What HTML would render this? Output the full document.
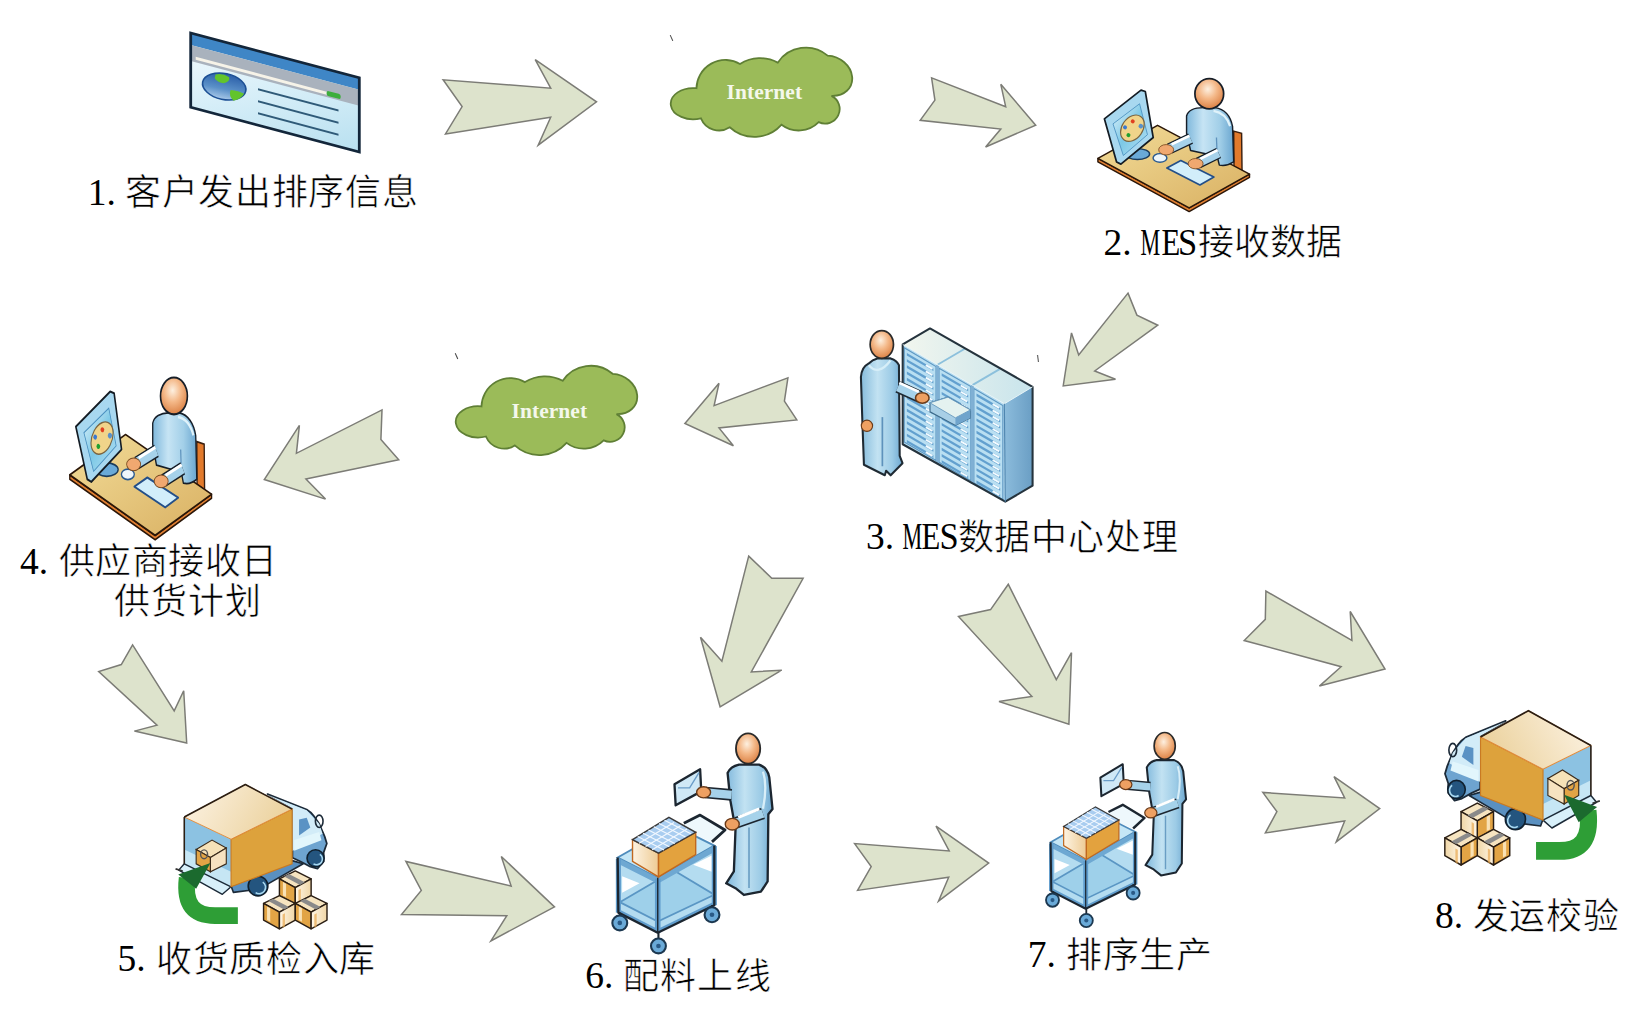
<!DOCTYPE html>
<html lang="zh-CN"><head><meta charset="utf-8"><title>MES</title>
<style>
html,body{margin:0;padding:0;background:#fff;width:1641px;height:1009px;overflow:hidden}
svg{position:absolute;left:0;top:0;display:block}
.arr{fill:#dde3cc;stroke:#7c7c76;stroke-width:1.5;stroke-linejoin:miter}
text{fill:#000}
</style></head><body>
<svg width="1641" height="1009" viewBox="0 0 1641 1009">
<defs>

</defs>
<polygon class="arr" points="443.1,79.8 462.1,106.6 445.5,133.9 550.7,117.3 538.2,145.2 596.5,101.8 535.2,59.6 550.7,88.2"/>
<polygon class="arr" points="931.6,77.8 934.9,100.1 920.2,120.3 1000.8,129.0 985.6,147.0 1035.7,125.2 1000.8,84.3 1005.7,106.7"/>
<polygon class="arr" points="1128.0,293.1 1136.9,315.1 1157.8,325.2 1094.7,371.0 1115.5,379.3 1063.2,385.9 1071.5,332.9 1078.7,354.9"/>
<polygon class="arr" points="787.9,377.8 784.4,401.1 796.8,419.9 719.0,427.9 733.4,445.7 684.9,423.4 719.0,383.3 714.1,405.6"/>
<polygon class="arr" points="382.0,409.9 380.9,439.6 398.7,459.8 305.9,478.9 325.5,499.1 264.3,479.5 299.4,425.3 296.4,453.3"/>
<polygon class="arr" points="132.6,644.9 121.3,664.5 98.7,671.6 157.0,725.1 134.4,731.1 186.7,743.0 183.7,690.7 174.2,710.9"/>
<polygon class="arr" points="748.7,556.1 771.8,578.3 803.1,578.3 751.3,672.0 781.7,670.2 720.1,706.8 700.5,637.2 721.9,661.3"/>
<polygon class="arr" points="1008.3,584.3 990.6,609.6 958.5,616.4 1031.9,696.4 999.0,701.5 1068.9,724.2 1071.5,652.6 1056.3,679.6"/>
<polygon class="arr" points="1265.9,591.0 1265.3,619.4 1244.2,640.5 1341.1,666.7 1319.4,686.1 1385.0,669.0 1350.2,611.5 1351.9,640.5"/>
<polygon class="arr" points="405.9,861.4 421.3,890.5 401.5,914.6 506.8,915.7 490.9,940.9 554.5,906.9 501.3,856.5 511.2,886.1"/>
<polygon class="arr" points="854.6,843.6 871.2,866.6 857.6,890.4 948.7,877.3 938.5,901.2 988.7,863.1 936.0,826.1 949.2,851.0"/>
<polygon class="arr" points="1262.8,792.4 1276.9,811.6 1265.4,832.9 1344.7,821.0 1336.2,841.9 1379.7,808.6 1334.0,776.6 1344.7,798.0"/>
<g id="cloud1" transform="translate(660,30) scale(0.12797)">
<path d="M285,455 A226,226 0 0 1 625,265 A292,292 0 0 1 920,255 A264,264 0 0 1 1310,200 A180,150 25 1 1 1340,515 A114,114 0 1 1 1240,720 A220,220 0 0 1 950,740 A284,284 0 0 1 545,760 A153,153 0 0 1 320,690 A175,122 0 1 1 285,455 Z" fill="#9bbb59" stroke="#5f7f35" stroke-width="14"/>
<text x="520" y="542" font-family="Liberation Serif" font-weight="bold" font-size="168" textLength="590" lengthAdjust="spacing" style="fill:#f4f8ec">Internet</text>
<path d="M80,40 L100,85" stroke="#444" stroke-width="8"/>
</g>
<g transform="translate(-215,318.2)">
<g transform="translate(660,30) scale(0.12797)">
<path d="M285,455 A226,226 0 0 1 625,265 A292,292 0 0 1 920,255 A264,264 0 0 1 1310,200 A180,150 25 1 1 1340,515 A114,114 0 1 1 1240,720 A220,220 0 0 1 950,740 A284,284 0 0 1 545,760 A153,153 0 0 1 320,690 A175,122 0 1 1 285,455 Z" fill="#9bbb59" stroke="#5f7f35" stroke-width="14"/>
<text x="520" y="542" font-family="Liberation Serif" font-weight="bold" font-size="168" textLength="590" lengthAdjust="spacing" style="fill:#f4f8ec">Internet</text>
<path d="M80,40 L100,85" stroke="#444" stroke-width="8"/>
</g>
</g>

<g transform="matrix(1,0.2657,0,1,190.7,33)">
<defs>
<linearGradient id="brc" x1="0" y1="0" x2="1" y2="1">
<stop offset="0" stop-color="#f4fbfe"/><stop offset="0.5" stop-color="#d6eef8"/><stop offset="1" stop-color="#b8e0f0"/>
</linearGradient>
<linearGradient id="globe" x1="0" y1="0" x2="0" y2="1">
<stop offset="0" stop-color="#2a5ea8"/><stop offset="0.6" stop-color="#5a90c8"/><stop offset="1" stop-color="#a8c8e8"/>
</linearGradient>
</defs>
<rect x="0" y="0" width="168.6" height="74.3" fill="url(#brc)"/>
<rect x="0" y="0" width="168.6" height="12" fill="#3f86c6"/>
<rect x="0" y="12" width="168.6" height="16" fill="#a9b2bd"/>
<rect x="5" y="22.5" width="131" height="3" fill="#f6f3e8"/>
<rect x="136" y="21.5" width="14" height="5" rx="2" fill="#3cae3c"/>
<g transform="translate(33.5,44.6) matrix(1,-0.2657,0,1,0,0) rotate(12)">
<ellipse cx="0" cy="0" rx="22" ry="13" fill="url(#globe)" stroke="#1c4f94" stroke-width="1.6"/>
<path d="M-11,-10 Q-4,-13 3,-10 Q5,-6 -1,-3 Q-7,-2 -11,-6 Z" fill="#62c42c"/>
<path d="M7,2 Q15,1 21,3 Q19,9 12,12 Q6,8 7,2 Z" fill="#62c42c"/>
</g>
<g stroke="#2f5a78" stroke-width="2">
<line x1="67.3" y1="38.3" x2="147.8" y2="38.3"/>
<line x1="67.3" y1="50.4" x2="147.8" y2="50.4"/>
<line x1="67.3" y1="62.4" x2="147.8" y2="62.4"/>
</g>
<rect x="0" y="0" width="168.6" height="74.3" fill="none" stroke="#13263a" stroke-width="2.8"/>
</g>

<defs>
<linearGradient id="dkTop" x1="0" y1="0" x2="1" y2="1">
<stop offset="0" stop-color="#f2dc98"/><stop offset="1" stop-color="#d9b062"/>
</linearGradient>
<radialGradient id="head" cx="0.45" cy="0.35" r="0.7">
<stop offset="0" stop-color="#fdf0e0"/><stop offset="0.45" stop-color="#f4b888"/><stop offset="1" stop-color="#d87a3c"/>
</radialGradient>
<linearGradient id="body" x1="0" y1="0" x2="1" y2="0">
<stop offset="0" stop-color="#7fb8dc"/><stop offset="0.35" stop-color="#c6e4f4"/><stop offset="0.7" stop-color="#a2cfe8"/><stop offset="1" stop-color="#6aa6d0"/>
</linearGradient>
<linearGradient id="scr" x1="0" y1="0" x2="1" y2="1">
<stop offset="0" stop-color="#e8f6fc"/><stop offset="0.5" stop-color="#7cc8e6"/><stop offset="1" stop-color="#b8e2f4"/>
</linearGradient>
<g id="deskIcon">
<polygon points="1000,425 1055,440 1058,700 1002,672" fill="#e27a2c" stroke="#3a2010" stroke-width="10"/>
<polygon points="55,615 690,960 1110,725 1110,748 690,985 55,640" fill="#e07f32" stroke="#2a1608" stroke-width="10" stroke-linejoin="round"/>
<polygon points="55,615 470,385 1110,725 690,960" fill="url(#dkTop)" stroke="#2a1608" stroke-width="10" stroke-linejoin="round"/>
<ellipse cx="330" cy="585" rx="85" ry="38" fill="#6aaad8" stroke="#1c3c5c" stroke-width="10"/>
<polygon points="100,340 355,140 385,150 440,470 215,655 185,640" fill="#a8d8f0" stroke="#141c24" stroke-width="12" stroke-linejoin="round"/>
<polygon points="160,375 345,235 400,450 232,595" fill="url(#scr)" stroke="#4a90c0" stroke-width="6"/>
<g transform="translate(295,405) rotate(35)">
<ellipse cx="0" cy="0" rx="72" ry="100" fill="#f0d48a" stroke="#7a6440" stroke-width="8"/>
<circle cx="-25" cy="-40" r="14" fill="#e04020"/>
<circle cx="-45" cy="25" r="14" fill="#3a78d0"/>
<circle cx="5" cy="55" r="14" fill="#20a030"/>
<circle cx="40" cy="-45" r="16" fill="#5a90c8"/>
</g>
<ellipse cx="487" cy="612" rx="48" ry="30" fill="#eef6fb" stroke="#2a5a90" stroke-width="10"/>
<polygon points="535,682 632,630 862,745 765,800" fill="#d2eefa" stroke="#244f88" stroke-width="12" stroke-linejoin="round"/>
<path d="M672,320 C682,282 730,262 790,262 L870,262 C935,272 978,322 992,392 L1000,640 C970,660 930,668 900,662 L885,600 L700,560 L672,440 Z" fill="url(#body)" stroke="#161e28" stroke-width="10" stroke-linejoin="round"/>
<path d="M880,470 L885,600" stroke="#5e92bc" stroke-width="9"/><!-- crease -->
<path d="M860,285 Q945,300 975,390" fill="none" stroke="#dff2fa" stroke-width="16"/>
<path d="M700,478 L552,548" stroke="#161e28" stroke-width="78" stroke-linecap="butt"/>
<path d="M700,478 L552,548" stroke="#a6d2ea" stroke-width="60" stroke-linecap="butt"/>
<path d="M692,458 L568,518" stroke="#ffffff" stroke-width="18" stroke-linecap="butt"/>
<path d="M895,578 L752,648" stroke="#161e28" stroke-width="78" stroke-linecap="butt"/>
<path d="M895,578 L752,648" stroke="#a6d2ea" stroke-width="60" stroke-linecap="butt"/>
<path d="M888,558 L768,618" stroke="#ffffff" stroke-width="18" stroke-linecap="butt"/>
<ellipse cx="530" cy="555" rx="52" ry="36" fill="#f0a870" stroke="#7a4a20" stroke-width="6"/>
<ellipse cx="735" cy="652" rx="52" ry="36" fill="#f0a870" stroke="#7a4a20" stroke-width="6"/>
<ellipse cx="830" cy="165" rx="100" ry="105" fill="url(#head)" stroke="#161e28" stroke-width="12"/>
</g>
</defs>
<use href="#deskIcon" transform="translate(1090,70) scale(0.1437)"/>
<use href="#deskIcon" transform="translate(62.4,367.0) scale(0.1344,0.1754)"/>

<g transform="translate(850,320) scale(0.18823)">
<defs>
<linearGradient id="srvTop" x1="0" y1="0" x2="1" y2="0"><stop offset="0" stop-color="#f2f6ee"/><stop offset="1" stop-color="#c8e4ec"/></linearGradient>
<linearGradient id="srvSide" x1="0" y1="0" x2="1" y2="0"><stop offset="0" stop-color="#8cbcdc"/><stop offset="1" stop-color="#6a9ec4"/></linearGradient>
</defs>
<polygon points="280,130 820,445 825,965 280,660" fill="#b6dcf0"/>
<polygon points="288,148 457,247 457,747 288,648" fill="#b9dff2" stroke="#5d97c2" stroke-width="6"/>
<polygon points="302,175 443,257 443,271 302,189" fill="#62a0cf"/>
<line x1="403" y1="240" x2="438" y2="260" stroke="#f4fbff" stroke-width="10"/>
<polygon points="302,208 443,290 443,304 302,222" fill="#62a0cf"/>
<line x1="403" y1="273" x2="438" y2="293" stroke="#f4fbff" stroke-width="10"/>
<polygon points="302,241 443,323 443,337 302,255" fill="#62a0cf"/>
<line x1="403" y1="306" x2="438" y2="326" stroke="#f4fbff" stroke-width="10"/>
<polygon points="302,274 443,356 443,370 302,288" fill="#62a0cf"/>
<line x1="403" y1="339" x2="438" y2="359" stroke="#f4fbff" stroke-width="10"/>
<polygon points="302,307 443,389 443,403 302,321" fill="#62a0cf"/>
<line x1="403" y1="372" x2="438" y2="392" stroke="#f4fbff" stroke-width="10"/>
<polygon points="302,340 443,422 443,436 302,354" fill="#62a0cf"/>
<line x1="403" y1="405" x2="438" y2="425" stroke="#f4fbff" stroke-width="10"/>
<polygon points="302,373 443,455 443,469 302,387" fill="#62a0cf"/>
<line x1="403" y1="438" x2="438" y2="458" stroke="#f4fbff" stroke-width="10"/>
<polygon points="302,406 443,488 443,502 302,420" fill="#62a0cf"/>
<line x1="403" y1="471" x2="438" y2="491" stroke="#f4fbff" stroke-width="10"/>
<polygon points="302,439 443,521 443,535 302,453" fill="#62a0cf"/>
<line x1="403" y1="504" x2="438" y2="524" stroke="#f4fbff" stroke-width="10"/>
<polygon points="302,472 443,554 443,568 302,486" fill="#62a0cf"/>
<line x1="403" y1="537" x2="438" y2="557" stroke="#f4fbff" stroke-width="10"/>
<polygon points="302,505 443,587 443,601 302,519" fill="#62a0cf"/>
<line x1="403" y1="570" x2="438" y2="590" stroke="#f4fbff" stroke-width="10"/>
<polygon points="302,538 443,620 443,634 302,552" fill="#62a0cf"/>
<line x1="403" y1="603" x2="438" y2="623" stroke="#f4fbff" stroke-width="10"/>
<polygon points="302,571 443,653 443,667 302,585" fill="#62a0cf"/>
<line x1="403" y1="636" x2="438" y2="656" stroke="#f4fbff" stroke-width="10"/>
<polygon points="302,604 443,686 443,700 302,618" fill="#62a0cf"/>
<line x1="403" y1="669" x2="438" y2="689" stroke="#f4fbff" stroke-width="10"/>
<polygon points="302,637 443,719 443,733 302,651" fill="#62a0cf"/>
<line x1="403" y1="702" x2="438" y2="722" stroke="#f4fbff" stroke-width="10"/>
<polygon points="473,256 642,354 642,854 473,756" fill="#b9dff2" stroke="#5d97c2" stroke-width="6"/>
<polygon points="487,283 628,365 628,379 487,297" fill="#62a0cf"/>
<line x1="588" y1="348" x2="623" y2="368" stroke="#f4fbff" stroke-width="10"/>
<polygon points="487,316 628,398 628,412 487,330" fill="#62a0cf"/>
<line x1="588" y1="381" x2="623" y2="401" stroke="#f4fbff" stroke-width="10"/>
<polygon points="487,349 628,431 628,445 487,363" fill="#62a0cf"/>
<line x1="588" y1="414" x2="623" y2="434" stroke="#f4fbff" stroke-width="10"/>
<polygon points="487,382 628,464 628,478 487,396" fill="#62a0cf"/>
<line x1="588" y1="447" x2="623" y2="467" stroke="#f4fbff" stroke-width="10"/>
<polygon points="487,415 628,497 628,511 487,429" fill="#62a0cf"/>
<line x1="588" y1="480" x2="623" y2="500" stroke="#f4fbff" stroke-width="10"/>
<polygon points="487,448 628,530 628,544 487,462" fill="#62a0cf"/>
<line x1="588" y1="513" x2="623" y2="533" stroke="#f4fbff" stroke-width="10"/>
<polygon points="487,481 628,563 628,577 487,495" fill="#62a0cf"/>
<line x1="588" y1="546" x2="623" y2="566" stroke="#f4fbff" stroke-width="10"/>
<polygon points="487,514 628,596 628,610 487,528" fill="#62a0cf"/>
<line x1="588" y1="579" x2="623" y2="599" stroke="#f4fbff" stroke-width="10"/>
<polygon points="487,547 628,629 628,643 487,561" fill="#62a0cf"/>
<line x1="588" y1="612" x2="623" y2="632" stroke="#f4fbff" stroke-width="10"/>
<polygon points="487,580 628,662 628,676 487,594" fill="#62a0cf"/>
<line x1="588" y1="645" x2="623" y2="665" stroke="#f4fbff" stroke-width="10"/>
<polygon points="487,613 628,695 628,709 487,627" fill="#62a0cf"/>
<line x1="588" y1="678" x2="623" y2="698" stroke="#f4fbff" stroke-width="10"/>
<polygon points="487,646 628,728 628,742 487,660" fill="#62a0cf"/>
<line x1="588" y1="711" x2="623" y2="731" stroke="#f4fbff" stroke-width="10"/>
<polygon points="487,679 628,761 628,775 487,693" fill="#62a0cf"/>
<line x1="588" y1="744" x2="623" y2="764" stroke="#f4fbff" stroke-width="10"/>
<polygon points="487,712 628,794 628,808 487,726" fill="#62a0cf"/>
<line x1="588" y1="777" x2="623" y2="797" stroke="#f4fbff" stroke-width="10"/>
<polygon points="487,745 628,827 628,841 487,759" fill="#62a0cf"/>
<line x1="588" y1="810" x2="623" y2="830" stroke="#f4fbff" stroke-width="10"/>
<polygon points="658,364 812,454 812,954 658,864" fill="#b9dff2" stroke="#5d97c2" stroke-width="6"/>
<polygon points="672,391 798,464 798,478 672,405" fill="#62a0cf"/>
<line x1="758" y1="447" x2="793" y2="467" stroke="#f4fbff" stroke-width="10"/>
<polygon points="672,424 798,497 798,511 672,438" fill="#62a0cf"/>
<line x1="758" y1="480" x2="793" y2="500" stroke="#f4fbff" stroke-width="10"/>
<polygon points="672,457 798,530 798,544 672,471" fill="#62a0cf"/>
<line x1="758" y1="513" x2="793" y2="533" stroke="#f4fbff" stroke-width="10"/>
<polygon points="672,490 798,563 798,577 672,504" fill="#62a0cf"/>
<line x1="758" y1="546" x2="793" y2="566" stroke="#f4fbff" stroke-width="10"/>
<polygon points="672,523 798,596 798,610 672,537" fill="#62a0cf"/>
<line x1="758" y1="579" x2="793" y2="599" stroke="#f4fbff" stroke-width="10"/>
<polygon points="672,556 798,629 798,643 672,570" fill="#62a0cf"/>
<line x1="758" y1="612" x2="793" y2="632" stroke="#f4fbff" stroke-width="10"/>
<polygon points="672,589 798,662 798,676 672,603" fill="#62a0cf"/>
<line x1="758" y1="645" x2="793" y2="665" stroke="#f4fbff" stroke-width="10"/>
<polygon points="672,622 798,695 798,709 672,636" fill="#62a0cf"/>
<line x1="758" y1="678" x2="793" y2="698" stroke="#f4fbff" stroke-width="10"/>
<polygon points="672,655 798,728 798,742 672,669" fill="#62a0cf"/>
<line x1="758" y1="711" x2="793" y2="731" stroke="#f4fbff" stroke-width="10"/>
<polygon points="672,688 798,761 798,775 672,702" fill="#62a0cf"/>
<line x1="758" y1="744" x2="793" y2="764" stroke="#f4fbff" stroke-width="10"/>
<polygon points="672,721 798,794 798,808 672,735" fill="#62a0cf"/>
<line x1="758" y1="777" x2="793" y2="797" stroke="#f4fbff" stroke-width="10"/>
<polygon points="672,754 798,827 798,841 672,768" fill="#62a0cf"/>
<line x1="758" y1="810" x2="793" y2="830" stroke="#f4fbff" stroke-width="10"/>
<polygon points="672,787 798,860 798,874 672,801" fill="#62a0cf"/>
<line x1="758" y1="843" x2="793" y2="863" stroke="#f4fbff" stroke-width="10"/>
<polygon points="672,820 798,893 798,907 672,834" fill="#62a0cf"/>
<line x1="758" y1="876" x2="793" y2="896" stroke="#f4fbff" stroke-width="10"/>
<polygon points="672,853 798,926 798,940 672,867" fill="#62a0cf"/>
<line x1="758" y1="909" x2="793" y2="929" stroke="#f4fbff" stroke-width="10"/>
<line x1="465" y1="238" x2="465" y2="765" stroke="#7fb0d4" stroke-width="16"/>
<line x1="650" y1="346" x2="650" y2="870" stroke="#7fb0d4" stroke-width="16"/>
<polygon points="280,130 425,45 970,355 820,445" fill="url(#srvTop)"/>
<line x1="465" y1="238" x2="610" y2="153" stroke="#8cc0dc" stroke-width="10"/>
<line x1="650" y1="346" x2="795" y2="261" stroke="#8cc0dc" stroke-width="10"/>
<polygon points="820,445 970,355 970,880 825,965" fill="url(#srvSide)"/>
<polygon points="280,130 425,45 970,355 970,880 825,965 280,660" fill="none" stroke="#25333d" stroke-width="11" stroke-linejoin="round"/>
<polyline points="280,130 820,445 970,355" fill="none" stroke="#e8f4f8" stroke-width="5"/>
<line x1="820" y1="445" x2="825" y2="965" stroke="#4f86b0" stroke-width="6"/>
<polygon points="425,440 520,410 640,478 640,520 560,560 425,488" fill="#a8cfe6" stroke="#3c6a8a" stroke-width="6"/>
<polygon points="425,440 520,410 640,478 560,520" fill="#e4f2f0" stroke="#6a9cc0" stroke-width="5"/>
<polygon points="560,520 640,478 640,520 560,560" fill="#6fa4cc"/>
<defs>
<linearGradient id="srvBody" x1="0" y1="0" x2="1" y2="0"><stop offset="0" stop-color="#86bcdc"/><stop offset="0.4" stop-color="#c2e2f2"/><stop offset="0.75" stop-color="#9ccbe6"/><stop offset="1" stop-color="#6ea8d0"/></linearGradient>
</defs>
<path d="M58,303 Q62,250 98,232 Q120,210 145,204 L216,204 Q250,215 260,240 L264,722 L279,761 L216,825 L192,801 L185,825 L74,769 L66,548 Z" fill="url(#srvBody)" stroke="#1f2a33" stroke-width="11" stroke-linejoin="round"/>
<path d="M172,516 L172,777" stroke="#5e92bc" stroke-width="9"/>
<path d="M100,240 Q150,300 215,215" fill="none" stroke="#d6eef8" stroke-width="12"/>
<path d="M255,355 L372,408" stroke="#1f2a33" stroke-width="66"/>
<path d="M255,355 L372,408" stroke="#a6d2ea" stroke-width="50"/>
<path d="M262,334 L365,381" stroke="#ffffff" stroke-width="14"/>
<ellipse cx="384" cy="414" rx="36" ry="28" fill="#eea062" stroke="#6a3a18" stroke-width="8"/>
<ellipse cx="90" cy="562" rx="30" ry="30" fill="#eea062" stroke="#6a3a18" stroke-width="6"/>
<ellipse cx="169" cy="130" rx="62" ry="74" fill="url(#head)" stroke="#2a2a2a" stroke-width="9"/>
</g>
<line x1="1037.5" y1="355" x2="1038.5" y2="362" stroke="#666" stroke-width="1.2"/><!-- tick -->
<defs>
<linearGradient id="boxL" x1="0" y1="0" x2="1" y2="0"><stop offset="0" stop-color="#fdf3e2"/><stop offset="1" stop-color="#eecb94"/></linearGradient>
<linearGradient id="cartBody" x1="0" y1="0" x2="1" y2="0"><stop offset="0" stop-color="#80b8dc"/><stop offset="0.4" stop-color="#c2e2f2"/><stop offset="0.75" stop-color="#9ccbe6"/><stop offset="1" stop-color="#6ea8d0"/></linearGradient>
<g id="cartIcon">
<!-- handle -->
<polygon points="360,422 430,387 537,451 481,502 400,470" fill="#eef8fc"/>
<polyline points="360,422 430,387 537,451 481,502" fill="none" stroke="#1c2630" stroke-width="12" stroke-linejoin="round"/>
<!-- cart frame back -->
<polygon points="75.8,569 318,432 491,518 491,774 248,892 79,806" fill="#b4dcf0"/>
<!-- bottom shelf -->
<polygon points="85,761 318,625 491,729 248,844" fill="#9ed0ea" stroke="#5a96c4" stroke-width="8"/>
<!-- open side triangles (white) -->
<polygon points="95,650 95,720 170,680" fill="#ffffff"/>
<polygon points="480,560 480,630 400,600" fill="#ffffff"/>
<!-- top shelf plate -->
<polygon points="75.8,569 318,432 491,518 248,656" fill="#c4e6f6" stroke="#4f8cbc" stroke-width="8"/>
<polygon points="75.8,569 248,656 491,518 491,545 248,682 75.8,595" fill="#6ea8d2"/>
<!-- posts -->
<line x1="79" y1="575" x2="79" y2="806" stroke="#5f9ccc" stroke-width="22"/>
<line x1="248" y1="660" x2="248" y2="892" stroke="#5f9ccc" stroke-width="24"/>
<line x1="491" y1="520" x2="491" y2="774" stroke="#5f9ccc" stroke-width="22"/>
<!-- bottom front edge -->
<polygon points="79,790 248,876 491,758 491,774 248,892 79,806" fill="#5f9ccc"/>
<polyline points="75.8,569 79,806 248,892 491,774 491,518" fill="none" stroke="#1c2630" stroke-width="10" stroke-linejoin="round"/>
<line x1="248" y1="656" x2="248" y2="892" stroke="#1c2630" stroke-width="6"/>
<!-- wheels -->
<g fill="#6aaad8" stroke="#1c3850" stroke-width="9">
<line x1="85" y1="806" x2="85" y2="830" stroke="#1c2630"/>
<line x1="251" y1="892" x2="251" y2="925" stroke="#1c2630"/>
<line x1="481" y1="774" x2="481" y2="795" stroke="#1c2630"/>
<circle cx="85" cy="850" r="32"/>
<circle cx="251" cy="949" r="32"/>
<circle cx="481" cy="815" r="32"/>
</g>
<g fill="#2a5a86"><circle cx="85" cy="850" r="10"/><circle cx="251" cy="949" r="10"/><circle cx="481" cy="815" r="10"/></g>
<!-- box -->
<polygon points="139.7,492.7 251.4,550.2 251.4,652.4 139.7,585.4" fill="url(#boxL)" stroke="#c06820" stroke-width="6"/>
<polygon points="251.4,550.2 411,461 411,557 251.4,652.4" fill="#e3a23e" stroke="#c06820" stroke-width="6"/>
<polygon points="139.7,492.7 296,397 411,461 251.4,550.2" fill="#a9cdf0" stroke="#3a3a3a" stroke-width="6"/>
<g stroke="#f2f8ff" stroke-width="5">
<line x1="162" y1="479" x2="275" y2="537"/><line x1="185" y1="465" x2="298" y2="523"/><line x1="208" y1="451" x2="321" y2="509"/><line x1="231" y1="437" x2="344" y2="495"/><line x1="254" y1="423" x2="367" y2="481"/><line x1="277" y1="409" x2="390" y2="467"/>
<line x1="168" y1="508" x2="318" y2="419"/><line x1="196" y1="522" x2="346" y2="433"/><line x1="224" y1="536" x2="374" y2="447"/>
</g>
<!-- person -->
<path d="M548,206 Q560,178 597,170 L683,170 Q718,182 727,224 L741,361 L723,383 L720,672 L691,716 L618,730 L582,701 L542,680 L575,629 L582,448 L560,325 Z" fill="url(#cartBody)" stroke="#1c2630" stroke-width="10" stroke-linejoin="round"/>
<path d="M640,440 L640,700" stroke="#6a9ec4" stroke-width="7"/>
<path d="M700,200 Q720,260 700,360" fill="none" stroke="#d8eef8" stroke-width="10"/>
<path d="M565,300 L452,290" stroke="#1c2630" stroke-width="50"/>
<path d="M565,300 L452,290" stroke="#a6d2ea" stroke-width="36"/>
<path d="M700,380 L585,420" stroke="#1c2630" stroke-width="50"/>
<path d="M700,380 L585,420" stroke="#a6d2ea" stroke-width="36"/>
<path d="M684,360 L594,397" stroke="#ffffff" stroke-width="13"/>
<polygon points="320,255 430,190 435,285 325,345" fill="#cfe8f6" stroke="#1c2630" stroke-width="10" stroke-linejoin="round"/>
<polyline points="335,270 385,270 425,205" fill="none" stroke="#6a9cc8" stroke-width="6"/>
<ellipse cx="445" cy="289" rx="30" ry="24" fill="#eea062" stroke="#6a3a18" stroke-width="6"/>
<ellipse cx="568" cy="426" rx="30" ry="25" fill="#eea062" stroke="#6a3a18" stroke-width="6"/>
<ellipse cx="636" cy="101" rx="52" ry="65" fill="url(#head)" stroke="#2a2a2a" stroke-width="8"/>
</g>
</defs>
<use href="#cartIcon" transform="translate(600,725) scale(0.23283)"/>
<use href="#cartIcon" transform="translate(1035.2,725.1) scale(0.2036,0.2059)"/>

<defs>
<linearGradient id="cargoTop" x1="0" y1="0" x2="1" y2="0.3"><stop offset="0" stop-color="#fdf4e6"/><stop offset="1" stop-color="#ecd3a0"/></linearGradient>
<linearGradient id="ctn" x1="0" y1="0" x2="1" y2="0"><stop offset="0" stop-color="#fff6e6"/><stop offset="1" stop-color="#f0d6a6"/></linearGradient>
<g id="carton">
<polygon points="0,50 100,0 200,50 100,105" fill="#f6e4c0" stroke="#2a1e14" stroke-width="9" stroke-linejoin="round"/>
<polygon points="0,50 100,105 100,210 0,155" fill="#e2a445" stroke="#2a1e14" stroke-width="9" stroke-linejoin="round"/>
<polygon points="100,105 200,50 200,155 100,210" fill="url(#ctn)" stroke="#2a1e14" stroke-width="9" stroke-linejoin="round"/>
<polygon points="30,35 60,20 160,72 130,88" fill="#8a8a8a"/>
<polygon points="22,70 42,80 42,165 22,155" fill="#fff0d0" opacity="0.8"/>
<polygon points="120,120 135,112 135,195 120,203" fill="#e8a850" opacity="0.7"/>
</g>
<g id="truckIcon">
<!-- chassis under cargo -->
<polygon points="385,700 770,540 840,560 560,720 400,740" fill="#5a90c0" stroke="#1c2a38" stroke-width="10" stroke-linejoin="round"/>
<!-- cab -->
<path d="M615,120 L862,218 Q890,235 907,258 L941,308 L975,387 L989,432 L969,488 L969,545 L930,590 L885,578 L823,545 L772,522 L772,207 Z" fill="#6ea4d0" stroke="#1c2a38" stroke-width="11" stroke-linejoin="round"/>
<polygon points="615,124 862,222 941,308 962,370 772,480 772,210" fill="#d2ecf8"/>
<polygon points="783,410 941,359 955,412 783,477" fill="#e2f6fc"/>
<polygon points="814,280 862,269 885,331 814,381" fill="#5a92c4"/>
<ellipse cx="941" cy="292" rx="24" ry="39" fill="none" stroke="#1c2a38" stroke-width="10"/>
<!-- wheels -->
<circle cx="918" cy="525" r="54" fill="#24557f" stroke="#10202e" stroke-width="10"/>
<path d="M905,560 A35,35 0 0 0 945,500" fill="none" stroke="#a8d8f0" stroke-width="10"/>
<circle cx="555" cy="700" r="62" fill="#24557f" stroke="#10202e" stroke-width="10"/>
<path d="M540,742 A40,40 0 0 0 585,675" fill="none" stroke="#a8d8f0" stroke-width="10"/>
<!-- cargo interior (open back) -->
<polygon points="90,265 385,405 385,705 90,560" fill="#8cc2e2"/>
<polygon points="90,470 385,610 385,705 90,560" fill="#c6e6f4"/>
<polygon points="90,560 385,705 330,752 55,600" fill="#d8f0fa" stroke="#1c2a38" stroke-width="9" stroke-linejoin="round"/>
<!-- cargo right face -->
<polygon points="385,405 770,215 770,560 385,705" fill="#dda23c" stroke="#c97a22" stroke-width="7"/>
<!-- cargo top -->
<polygon points="90,265 475,60 770,215 385,405" fill="url(#cargoTop)" stroke="#e08a3a" stroke-width="6"/>
<polyline points="90,265 475,60 770,215" fill="none" stroke="#2a1e14" stroke-width="10" stroke-linejoin="round"/>
<polyline points="90,265 90,560" fill="none" stroke="#2a1e14" stroke-width="10"/>
<!-- box in truck -->
<polygon points="165,470 265,410 355,460 255,520" fill="#f6e2b8" stroke="#3a2a1a" stroke-width="7"/>
<polygon points="165,470 255,520 255,610 165,560" fill="#e2a445" stroke="#3a2a1a" stroke-width="7"/>
<polygon points="255,520 355,460 355,560 255,610" fill="#f6e2c0" stroke="#3a2a1a" stroke-width="7"/>
<ellipse cx="215" cy="500" rx="22" ry="28" fill="none" stroke="#555" stroke-width="9"/>
<!-- tick -->
<line x1="35" y1="592" x2="80" y2="606" stroke="#333" stroke-width="10"/>
<!-- green arrow -->
<path d="M425,835 L270,835 Q150,835 110,760 Q90,720 100,680 L190,690 Q185,760 280,775 L425,775 Z" fill="none"/>
<path d="M428,887 L285,887 C150,887 88,820 108,650" fill="none" stroke="#2e9e36" stroke-width="105"/>
<polygon points="52,628 255,555 165,718" fill="#1b6a2e"/>
<!-- cartons -->
<use href="#carton" transform="translate(690,605)"/>
<use href="#carton" transform="translate(590,760)"/>
<use href="#carton" transform="translate(790,760)"/>
</g>
</defs>
<use href="#truckIcon" transform="translate(170,775) scale(0.15858)"/>
<use href="#truckIcon" transform="matrix(-0.1623,0,0,0.1696,1605.5,700.5)"/>

<text x="87.7" y="204.5" font-family="Liberation Serif" font-size="37.5">1.</text>
<text x="124.9 161.6 198.3 235.0 271.7 308.4 345.1 381.8" y="205.3" font-family="Liberation Serif, serif" font-size="36" style="stroke:#fff;stroke-width:0.6px">客户发出排序信息</text>
<text x="1103.6" y="254.5" font-family="Liberation Serif" font-size="37.5">2.</text>
<text transform="translate(1140.4,254.5) scale(0.59,1)" font-family="Liberation Serif" font-size="37.5">M</text>
<text transform="translate(1161.6,254.5) scale(0.82,1)" font-family="Liberation Serif" font-size="37.5">E</text>
<text transform="translate(1177.9,254.5) scale(0.92,1)" font-family="Liberation Serif" font-size="37.5">S</text>
<text x="1197.8 1233.7 1269.6 1305.5" y="255.3" font-family="Liberation Serif, serif" font-size="36" style="stroke:#fff;stroke-width:0.6px">接收数据</text>
<text x="866.0" y="549.2" font-family="Liberation Serif" font-size="37.5">3.</text>
<text transform="translate(902.5,549.2) scale(0.59,1)" font-family="Liberation Serif" font-size="37.5">M</text>
<text transform="translate(921.5,549.2) scale(0.82,1)" font-family="Liberation Serif" font-size="37.5">E</text>
<text transform="translate(939.5,549.2) scale(0.92,1)" font-family="Liberation Serif" font-size="37.5">S</text>
<text x="957.5 994.4 1031.3 1068.2 1105.1 1142.0" y="550.0" font-family="Liberation Serif, serif" font-size="36" style="stroke:#fff;stroke-width:0.6px">数据中心处理</text>
<text x="20.1" y="573.5" font-family="Liberation Serif" font-size="37.5">4.</text>
<text x="58.6 95.1 131.6 168.1 204.6 241.1" y="574.3" font-family="Liberation Serif, serif" font-size="36" style="stroke:#fff;stroke-width:0.6px">供应商接收日</text>
<text x="114.1 151.0 187.9 224.8" y="614.0" font-family="Liberation Serif, serif" font-size="36" style="stroke:#fff;stroke-width:0.6px">供货计划</text>
<text x="117.4" y="971.1" font-family="Liberation Serif" font-size="37.5">5.</text>
<text x="155.9 192.6 229.3 266.0 302.7 339.4" y="971.9" font-family="Liberation Serif, serif" font-size="36" style="stroke:#fff;stroke-width:0.6px">收货质检入库</text>
<text x="585.2" y="988.1" font-family="Liberation Serif" font-size="37.5">6.</text>
<text x="622.9 660.1 697.3 734.5" y="988.9" font-family="Liberation Serif, serif" font-size="36" style="stroke:#fff;stroke-width:0.6px">配料上线</text>
<text x="1027.8" y="967.4" font-family="Liberation Serif" font-size="37.5">7.</text>
<text x="1065.7 1102.5 1139.3 1176.1" y="968.2" font-family="Liberation Serif, serif" font-size="36" style="stroke:#fff;stroke-width:0.6px">排序生产</text>
<text x="1434.9" y="927.9" font-family="Liberation Serif" font-size="37.5">8.</text>
<text x="1472.8 1509.4 1546.0 1582.6" y="928.7" font-family="Liberation Serif, serif" font-size="36" style="stroke:#fff;stroke-width:0.6px">发运校验</text>
</svg>
</body></html>
